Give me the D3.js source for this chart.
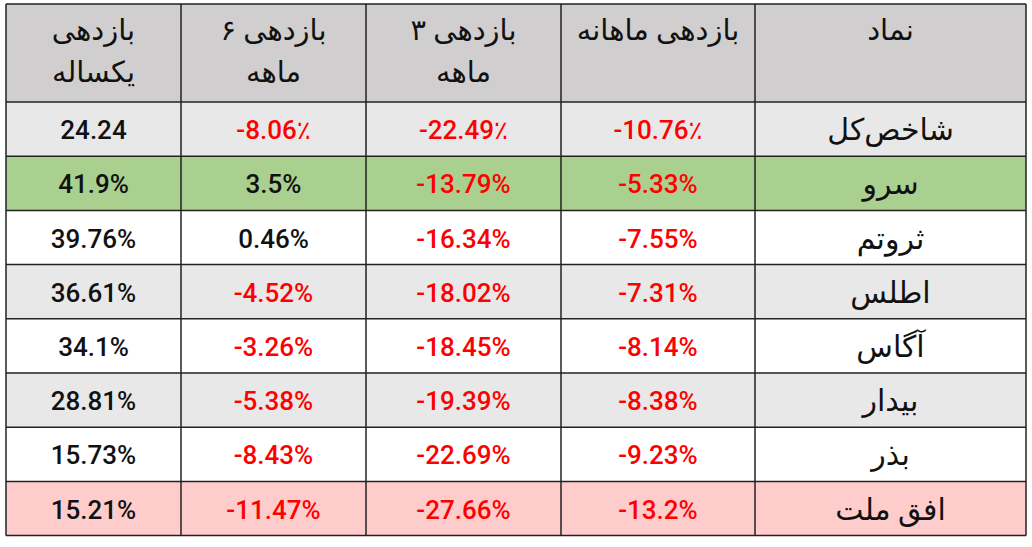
<!DOCTYPE html>
<html><head><meta charset="utf-8">
<script src="https://cdn.jsdelivr.net/npm/d3@7"></script>
<style>body{margin:0;background:#fff}</style>
</head><body>
<div class="svg-area"></div>
<script>
// columns right to left as in the picture
let headers = [["نماد"], ["بازدهی ماهانه"], ["بازدهی ۳", "ماهه"], ["بازدهی ۶", "ماهه"], ["بازدهی", "یکساله"]];
let symbols = ["شاخص‌کل", "سرو", "ثروتم", "اطلس", "آگاس", "بیدار", "بذر", "افق ملت"];
let monthly = ["-10.76٪", "-5.33%", "-7.55%", "-7.31%", "-8.14%", "-8.38%", "-9.23%", "-13.2%"];
let three = ["-22.49٪", "-13.79%", "-16.34%", "-18.02%", "-18.45%", "-19.39%", "-22.69%", "-27.66%"];
let six = ["-8.06٪", "3.5%", "0.46%", "-4.52%", "-3.26%", "-5.38%", "-8.43%", "-11.47%"];
let yearly = ["24.24", "41.9%", "39.76%", "36.61%", "34.1%", "28.81%", "15.73%", "15.21%"];
let rowFill = ["#e8e8e8", "#a9d08e", "#ffffff", "#e8e8e8", "#ffffff", "#e8e8e8", "#ffffff", "#ffcccc"];

let svg = d3.select(".svg-area").append("svg")
    .attr("width", 1032).attr("height", 547)
    .style("font-family", "Roboto, 'DejaVu Sans', sans-serif");

// x edges: left to right = yearly, six, three, monthly, symbol
let xEdges = [6, 181, 366, 561, 755, 1026];
let colOrder = [4, 3, 2, 1, 0]; // header index at each visual position
let headerTop = 4, headerBottom = 102, rowH = 54.2;
let y = d3.scaleLinear().domain([0, symbols.length]).range([headerBottom, headerBottom + rowH * symbols.length]);

svg.append("rect").attr("x", xEdges[0]).attr("y", headerTop)
    .attr("width", xEdges[5] - xEdges[0]).attr("height", headerBottom - headerTop).attr("fill", "#d0cece");

svg.selectAll(".row").data(rowFill).enter().append("rect")
    .attr("x", xEdges[0]).attr("y", (d, i) => y(i))
    .attr("width", xEdges[5] - xEdges[0]).attr("height", rowH).attr("fill", d => d);

// header text
colOrder.forEach((h, p) => {
    let cx = (xEdges[p] + xEdges[p + 1]) / 2;
    let t = svg.append("text").attr("x", cx).attr("y", 40).attr("text-anchor", "middle")
        .attr("font-size", 29).attr("font-weight", 500).attr("fill", "#111").attr("direction", "rtl");
    headers[h].forEach((line, k) => {
        t.append("tspan").attr("x", cx).attr("dy", k === 0 ? 0 : 42).text(line);
    });
});

let cols = [yearly, six, three, monthly, symbols];
cols.forEach((vals, p) => {
    let cx = (xEdges[p] + xEdges[p + 1]) / 2;
    svg.selectAll(".c" + p).data(vals).enter().append("text")
        .attr("x", cx).attr("y", (d, i) => y(i) + rowH / 2 + (p === 4 ? 11 : 10))
        .attr("text-anchor", "middle").attr("font-size", p === 4 ? 30 : 26).attr("font-weight", 500)
        .attr("direction", p === 4 ? "rtl" : "ltr")
        .attr("fill", d => (p < 4 && d[0] === "-") ? "#ff0000" : "#111")
        .text(d => d);
});

// grid lines
let bottom = y(symbols.length);
let hLines = [headerTop, headerBottom].concat(d3.range(1, symbols.length + 1).map(i => y(i)));
svg.selectAll(".hl").data(hLines).enter().append("line")
    .attr("x1", xEdges[0]).attr("x2", xEdges[5]).attr("y1", d => d).attr("y2", d => d)
    .attr("stroke", "#222").attr("stroke-width", 1.5);
svg.selectAll(".vl").data(xEdges).enter().append("line")
    .attr("x1", d => d).attr("x2", d => d).attr("y1", headerTop).attr("y2", bottom)
    .attr("stroke", "#222").attr("stroke-width", 1.5);
</script>
</body></html>
